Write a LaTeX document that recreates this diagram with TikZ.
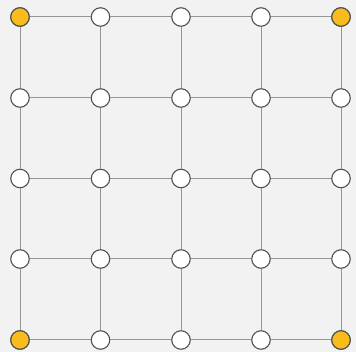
\documentclass[tikz,border=0pt]{standalone}
\definecolor{bg}{HTML}{F2F2F2}
\definecolor{edgec}{HTML}{959595}
\definecolor{ringc}{HTML}{505050}
\definecolor{cornerc}{HTML}{F8BC1C}
\begin{document}
\begin{tikzpicture}[x=1pt,y=-1pt,
  vtx/.style={circle,draw=ringc,line width=1.1pt,fill=white,minimum size=18.5pt,inner sep=0pt},
  cvtx/.style={vtx,fill=cornerc},
  edge/.style={draw=edgec,line width=1pt}]
\fill[bg] (0,0) rectangle (356,352);
\useasboundingbox (0,0) rectangle (356,352);
\foreach \i/\x in {0/20,1/100.5,2/181,3/261,4/341}{
  \foreach \j/\y in {0/17,1/98,2/178.5,3/259,4/340}{
    \coordinate (p\i\j) at (\x,\y);
  }
}
\foreach \i in {0,...,4}{
  \foreach \j in {0,...,4}{
    \node[vtx] (n\i\j) at (p\i\j) {};
  }
}
\node[cvtx] at (p00) {};
\node[cvtx] at (p40) {};
\node[cvtx] at (p04) {};
\node[cvtx] at (p44) {};
\foreach \i/\k in {0/1,1/2,2/3,3/4}{
  \foreach \j in {0,...,4}{
    \draw[edge] (n\i\j) -- (n\k\j);
    \draw[edge] (n\j\i) -- (n\j\k);
  }
}
\end{tikzpicture}
\end{document}
